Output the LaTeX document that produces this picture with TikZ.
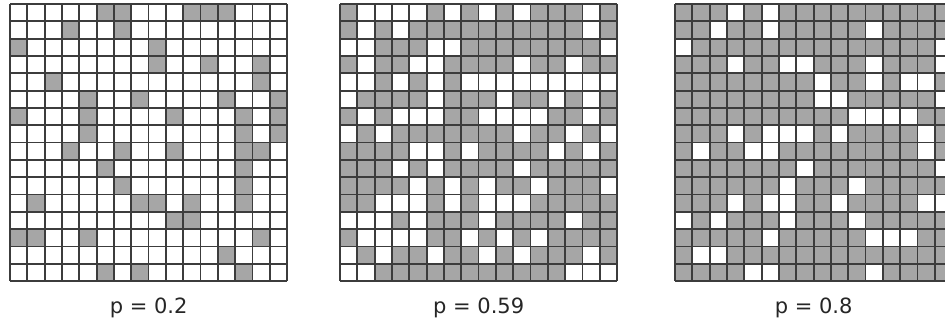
\documentclass[tikz,border=0pt]{standalone}
\usepackage{fontspec}
\setmainfont{DejaVu Sans}
\usepackage{xcolor}
\usetikzlibrary{positioning}

\definecolor{sitegray}{RGB}{166,166,166}
\definecolor{linegray}{RGB}{60,60,60}

\begin{document}
\begin{tikzpicture}[
    x=1pt, y=1pt,
    lattice/.style={draw=linegray, line width=1.7pt},
    occupied/.style={fill=sitegray},
    vacant/.style={fill=white},
    caption/.style={font=\fontsize{21}{25}\selectfont, text=black!85, anchor=base, inner sep=0pt},
    sitegrid/.style={x=17.33pt, y=-17.33pt}
]
\useasboundingbox (0,0) rectangle (945,-329);
\clip (0,0) rectangle (945,-329);

% p = 0.2 : list the occupied sites
\begin{scope}[shift={(10,-4)}, sitegrid]
\foreach \r/\cols in {1/{6,7,11,12,13}, 2/{4,7}, 3/{1,9}, 4/{9,12,15}, 5/{3,15},
    6/{5,8,13,16}, 7/{1,5,10,14,16}, 8/{5,14,16}, 9/{4,7,10,14,15}, 10/{6,14},
    11/{7,14}, 12/{2,8,9,11,14}, 13/{10,11}, 14/{1,2,5,15}, 15/{13}, 16/{6,8,14}}
  \foreach \c in \cols
    \fill[occupied] (\c-1,\r-1) rectangle (\c,\r);
\foreach \i in {0,...,16} {
  \draw[lattice] (\i,0) -- (\i,16);
  \draw[lattice] (0,\i) -- (16,\i);
}
\coordinate (base1) at (8,16);
\end{scope}

% p = 0.59 : list the vacant sites
\begin{scope}[shift={(340,-4)}, sitegrid]
\fill[occupied] (0,0) rectangle (16,16);
\foreach \r/\cols in {1/{2,3,4,5,7,9,11,15}, 2/{2,4,15}, 3/{1,2,6,7,16}, 4/{2,5,6,11,14},
    5/{1,2,4,6,8,9,10,11,12,13,14,15,16}, 6/{1,6,10,13,15}, 7/{2,4,5,6,9,10,11,12,15},
    8/{1,3,11,14,16}, 9/{5,6,8,13,15}, 10/{4,6,11}, 11/{5,7,9,12,16},
    12/{3,4,5,7,9,10,11}, 13/{1,2,3,5,9,14}, 14/{2,3,4,5,8,10,12},
    15/{1,3,6,9,11,15}, 16/{1,2,14,15,16}}
  \foreach \c in \cols
    \fill[vacant] (\c-1,\r-1) rectangle (\c,\r);
\foreach \i in {0,...,16} {
  \draw[lattice] (\i,0) -- (\i,16);
  \draw[lattice] (0,\i) -- (16,\i);
}
\coordinate (base2) at (8,16);
\end{scope}

% p = 0.8 : list the vacant sites
\begin{scope}[shift={(675,-4)}, sitegrid]
\fill[occupied] (0,0) rectangle (16,16);
\foreach \r/\cols in {1/{4,6}, 2/{3,6,12}, 3/{1,16}, 4/{4,7,8,12,16}, 5/{9,12,14,15},
    6/{9,10,16}, 7/{11,12,13,14}, 8/{4,6,7,8,10,15}, 9/{2,5,6,15}, 10/{8,16},
    11/{7,11}, 12/{4,6,7,10,15,16}, 13/{1,3,7,11}, 14/{6,12,13,14}, 15/{2,3}, 16/{5,6,12}}
  \foreach \c in \cols
    \fill[vacant] (\c-1,\r-1) rectangle (\c,\r);
\foreach \i in {0,...,16} {
  \draw[lattice] (\i,0) -- (\i,16);
  \draw[lattice] (0,\i) -- (16,\i);
}
\coordinate (base3) at (8,16);
\end{scope}

\node[caption] (cap1) at ([yshift=-32pt]base1) {p = 0.2};
\node[caption] (cap2) at ([yshift=-32pt]base2) {p = 0.59};
\node[caption] (cap3) at ([yshift=-32pt]base3) {p = 0.8};
\end{tikzpicture}
\end{document}
